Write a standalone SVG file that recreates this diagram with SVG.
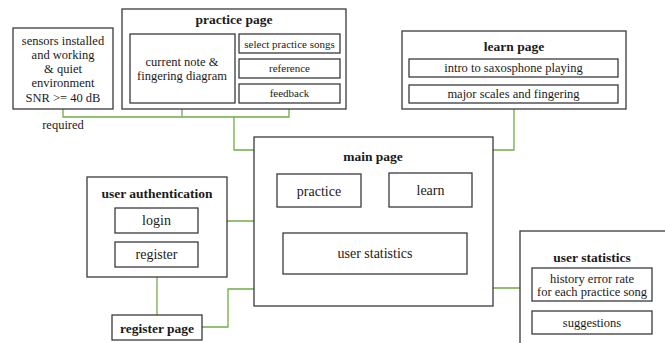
<svg xmlns="http://www.w3.org/2000/svg" width="665" height="343" viewBox="0 0 665 343">
<style>
.b{fill:#fff;stroke:#3a3a3e;stroke-width:1.3}
.r{font-size:12.5px}
.s{font-size:11px}
.m{font-size:14px}
.h{font-size:13.5px;font-weight:bold}
.c{fill:none;stroke:#70ad47;stroke-width:1.3}
</style>
<rect width="665" height="343" fill="#fff"/>
<g id="connectors">
<polyline class="c" points="63,109 63,117 234,117"/>
<polyline class="c" points="182,103 182,117"/>
<polyline class="c" points="289,103 289,117 234,117 234,150 319,150 319,174"/>
<polyline class="c" points="514,109 514,150 431,150 431,173"/>
<polyline class="c" points="198,221 254,221"/>
<polyline class="c" points="157,267 157,315"/>
<polyline class="c" points="202,327 228,327 228,289 254,289"/>
<polyline class="c" points="374,274 374,288 520,288"/>
</g>
<g font-family="Liberation Serif" fill="#1a1a1a" text-anchor="middle">
<g id="sensors">
<rect class="b" x="13" y="28" width="100" height="81"/>
<text class="r" x="63" y="45">sensors installed</text>
<text class="r" x="63" y="59">and working</text>
<text class="r" x="63" y="73">&amp; quiet</text>
<text class="r" x="63" y="87">environment</text>
<text class="r" x="63" y="102">SNR &gt;= 40 dB</text>
<text class="r" x="63" y="129">required</text>
</g>
<g id="practice-page">
<rect class="b" x="122" y="9" width="224" height="100"/>
<text class="h" x="234" y="24">practice page</text>
<rect class="b" x="130" y="34" width="105" height="69"/>
<text class="r" x="182" y="66">current note &amp;</text>
<text class="r" x="182" y="80">fingering diagram</text>
<rect class="b" x="239" y="34" width="101" height="19"/>
<text class="s" x="289.5" y="47.5">select practice songs</text>
<rect class="b" x="239" y="59" width="101" height="19"/>
<text class="s" x="289.5" y="72">reference</text>
<rect class="b" x="239" y="84" width="101" height="19"/>
<text class="s" x="289.5" y="97">feedback</text>
</g>
<g id="learn-page">
<rect class="b" x="402" y="31" width="224" height="78"/>
<text class="h" x="514" y="51">learn page</text>
<rect class="b" x="409" y="59" width="209" height="18"/>
<text class="r" x="513.5" y="72">intro to saxosphone playing</text>
<rect class="b" x="409" y="85" width="209" height="18"/>
<text class="r" x="513.5" y="98">major scales and fingering</text>
</g>
<g id="main-page">
<rect class="b" x="254" y="137" width="239" height="169"/>
<text class="h" x="373" y="161">main page</text>
<rect class="b" x="277" y="174" width="84" height="33"/>
<text class="m" x="319" y="196">practice</text>
<rect class="b" x="389" y="173" width="83" height="34"/>
<text class="m" x="430.5" y="195">learn</text>
<rect class="b" x="283" y="233" width="184" height="41"/>
<text class="m" x="375" y="258">user statistics</text>
</g>
<g id="user-authentication">
<rect class="b" x="87" y="177" width="140" height="100"/>
<text class="h" x="157" y="198">user authentication</text>
<rect class="b" x="115" y="208" width="83" height="25"/>
<text class="m" x="156.5" y="225">login</text>
<rect class="b" x="115" y="242" width="83" height="25"/>
<text class="m" x="156.5" y="259">register</text>
</g>
<g id="register-page">
<rect class="b" x="112" y="315" width="90" height="25"/>
<text class="h" x="157" y="333">register page</text>
</g>
<g id="user-statistics-page">
<rect class="b" x="520" y="231" width="150" height="120"/>
<text class="h" x="592" y="262">user statistics</text>
<rect class="b" x="532" y="268" width="120" height="33"/>
<text class="r" x="592" y="283">history error rate</text>
<text class="r" x="592" y="296">for each practice song</text>
<rect class="b" x="532" y="311" width="120" height="23"/>
<text class="r" x="592" y="327">suggestions</text>
</g>
</g>
</svg>
